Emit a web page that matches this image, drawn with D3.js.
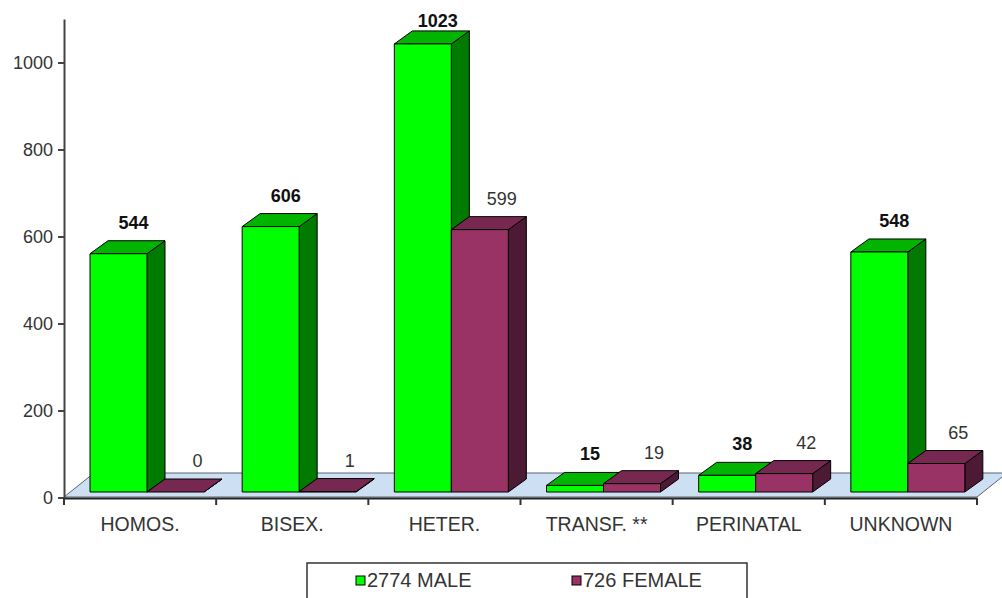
<!DOCTYPE html>
<html>
<head>
<meta charset="utf-8">
<script src="https://cdn.jsdelivr.net/npm/d3@7"></script>
<style>
  html, body { margin: 0; padding: 0; background: #fff; }
  svg { display: block; font-family: "Liberation Sans", Arial, sans-serif; }
</style>
</head>
<body>
<svg id="chart" width="1002" height="598"></svg>
<script>
// Cases by transmission category, split by sex
const categories = ["HOMOS.", "BISEX.", "HETER.", "TRANSF. **", "PERINATAL", "UNKNOWN"];
const maleValues = [544, 606, 1023, 15, 38, 548];
const femaleValues = [0, 1, 599, 19, 42, 65];
const yTicks = [0, 200, 400, 600, 800, 1000];
const seriesNames = ["2774 MALE", "726 FEMALE"];

const svg = d3.select("#chart");

// Axis scales
const x = d3.scaleBand().domain(categories).range([64, 977]).paddingInner(0).paddingOuter(0);
const yAxisScale = d3.scaleLinear().domain([0, 1100]).range([497.5, 19]);
// Bars stand on the floor, slightly in front of the axis baseline
const yBar = d3.scaleLinear().domain([0, 1000]).range([492, 54]);

// 3D depth offsets
const dx = 18, dy = -13;
const barW = 57, barInset = 26;

const series = [
  { name: seriesNames[0], values: maleValues, front: "#00ff00", top: "#00b400", side: "#007a00", bold: true, lx: 15, lcolor: "#111" },
  { name: seriesNames[1], values: femaleValues, front: "#993366", top: "#772850", side: "#4c1a34", bold: false, lx: 22, lcolor: "#333" }
];

// Floor
const floorDx = 30, floorDy = -24;
svg.append("polygon")
  .attr("points", [[64, 497], [977, 497], [977 + floorDx, 497 + floorDy], [64 + floorDx, 497 + floorDy]].map(p => p.join(",")).join(" "))
  .attr("fill", "#cddff3")
  .attr("stroke", "#5a6270")
  .attr("stroke-width", 1);

// Bars
const bars = svg.append("g");
categories.forEach((cat, i) => {
  series.forEach((s, si) => {
    const v = s.values[i];
    const x0 = x(cat) + barInset + si * barW;
    const yb = yBar(0), yt = yBar(v);
    const g = bars.append("g").attr("stroke", "#000").attr("stroke-width", 1).attr("stroke-linejoin", "round");
    g.append("polygon")
      .attr("points", [[x0 + barW, yb], [x0 + barW + dx, yb + dy], [x0 + barW + dx, yt + dy], [x0 + barW, yt]].map(p => p.join(",")).join(" "))
      .attr("fill", s.side);
    g.append("polygon")
      .attr("points", [[x0, yt], [x0 + dx, yt + dy], [x0 + barW + dx, yt + dy], [x0 + barW, yt]].map(p => p.join(",")).join(" "))
      .attr("fill", s.top);
    g.append("rect")
      .attr("x", x0).attr("y", yt)
      .attr("width", barW).attr("height", Math.max(0, yb - yt))
      .attr("fill", s.front);
  });
});

// Value labels
const labels = svg.append("g");
categories.forEach((cat, i) => {
  series.forEach((s, si) => {
    const v = s.values[i];
    const x0 = x(cat) + barInset + si * barW;
    const yt = yBar(v) + dy;
    labels.append("text")
      .attr("x", x0 + barW / 2 + s.lx)
      .attr("y", Math.max(yt - 12, 27))
      .attr("text-anchor", "middle")
      .attr("font-size", 18)
      .attr("font-weight", s.bold ? "bold" : "normal")
      .attr("fill", s.lcolor)
      .text(v);
  });
});

// Y axis
const yAxis = d3.axisLeft(yAxisScale).tickValues(yTicks).tickFormat(d3.format("d"))
  .tickSize(6).tickPadding(5).tickSizeOuter(0);
const gy = svg.append("g").attr("transform", "translate(64,0)").call(yAxis);
gy.select(".domain").attr("stroke", "#444").attr("stroke-width", 2);
gy.selectAll(".tick line").attr("stroke", "#444").attr("stroke-width", 2);
gy.selectAll(".tick text").attr("font-size", 18).attr("fill", "#333").attr("font-family", "Liberation Sans, Arial, sans-serif");

// X axis
const xAxis = d3.axisBottom(x).tickSize(0).tickPadding(19);
const gx = svg.append("g").attr("transform", "translate(0,498)").call(xAxis);
gx.select(".domain").attr("stroke", "#222").attr("stroke-width", 2);
gx.selectAll(".tick text").attr("font-size", 19.5).attr("fill", "#333").attr("font-family", "Liberation Sans, Arial, sans-serif");
// Category separators
const bounds = categories.map(c => x(c)).concat([x.range()[1]]);
svg.append("g").selectAll("line").data(bounds).join("line")
  .attr("x1", d => d).attr("x2", d => d)
  .attr("y1", 498).attr("y2", 505)
  .attr("stroke", "#333").attr("stroke-width", 2);

// Legend
const legend = svg.append("g");
legend.append("rect")
  .attr("x", 307).attr("y", 563).attr("width", 440).attr("height", 60)
  .attr("fill", "#fff").attr("stroke", "#333").attr("stroke-width", 1.5);
const legendX = [356, 572];
series.forEach((s, si) => {
  legend.append("rect")
    .attr("x", legendX[si]).attr("y", 576).attr("width", 9).attr("height", 9)
    .attr("fill", s.front).attr("stroke", "#000").attr("stroke-width", 1);
  legend.append("text")
    .attr("x", legendX[si] + 11).attr("y", 587)
    .attr("font-size", 20).attr("fill", "#333")
    .text(s.name);
});
</script>
</body>
</html>
